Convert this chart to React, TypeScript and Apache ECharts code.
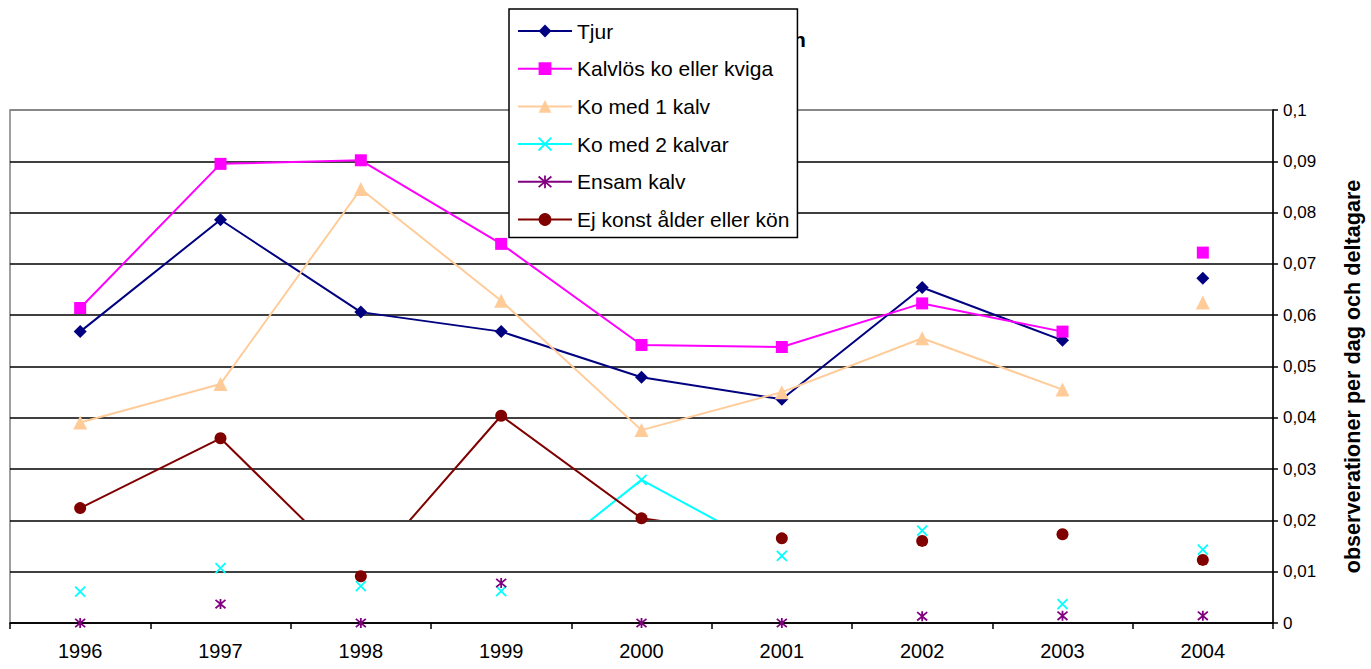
import React, { useEffect, useRef } from "react";
import * as echarts from "echarts";

const years = ["1996", "1997", "1998", "1999", "2000", "2001", "2002", "2003", "2004"];
const seriesNames = [
  "Tjur",
  "Kalvlös ko eller kviga",
  "Ko med 1 kalv",
  "Ko med 2 kalvar",
  "Ensam kalv",
  "Ej konst ålder eller kön",
];
const tjur = [0.0568, 0.0786, 0.0606, 0.0568, 0.0479, 0.0436, 0.0654, 0.0551, 0.0672];
const kalvlos = [0.0614, 0.0895, 0.0902, 0.0739, 0.0542, 0.0538, 0.0623, 0.0568, 0.0722];
const koMed1 = [0.0391, 0.0466, 0.0846, 0.0628, 0.0376, 0.045, 0.0555, 0.0455, 0.0625];
const koMed2 = [0.0061, 0.0107, 0.0072, 0.0062, 0.0279, 0.0131, 0.018, 0.0037, 0.0143];
const ensamKalv = [0, 0.0037, 0, 0.0078, 0, 0, 0.0013, 0.0014, 0.0014];
const ejKonst = [0.0224, 0.036, 0.0091, 0.0404, 0.0204, 0.0165, 0.016, 0.0173, 0.0123];
const allValues = [tjur, kalvlos, koMed1, koMed2, ensamKalv, ejKonst];
const yTicks = { min: 0, max: 0.1, interval: 0.01 };
const hiddenBelow = 0.02;
const yAxisTitle = "observerationer per dag och deltagare";
const titleVisible = "h";

const colors = ["#000080", "#FF00FF", "#FFCC99", "#00FFFF", "#800080", "#800000"];
const symbols = [
  "diamond",
  "rect",
  "triangle",
  "path://M0,0L10,10M10,0L0,10",
  "path://M0,0L10,10M10,0L0,10M5,-1L5,11",
  "circle",
];
const symbolSizes = [13, 12, 14, 10, 10, 12];
const strokeOnly = [false, false, false, true, true, false];

export default function App() {
  const ref = useRef<HTMLDivElement>(null);
  useEffect(() => {
    if (!ref.current) return;
    const chart = echarts.init(ref.current, undefined, { renderer: "svg" });
    const font = "Arial, 'Liberation Sans', sans-serif";

    const markerStyle = (i: number) =>
      strokeOnly[i]
        ? { color: colors[i], borderColor: colors[i], borderWidth: 1.8, opacity: 1 }
        : { color: colors[i], borderWidth: 0, opacity: 1 };

    const lineSeries = seriesNames.map((name, i) => ({
      type: "line",
      name,
      data: allValues[i].slice(0, 8).map((v, k) => [years[k], v]),
      symbol: symbols[i],
      symbolSize: symbolSizes[i],
      showSymbol: false,
      color: colors[i],
      lineStyle: { width: 2 },
      itemStyle: markerStyle(i),
      z: 2,
      silent: true,
    }));
    const markerSeries = seriesNames.map((name, i) => ({
      type: "scatter",
      name,
      data: allValues[i],
      symbol: symbols[i],
      symbolSize: symbolSizes[i],
      itemStyle: markerStyle(i),
      z: 3,
      silent: true,
    }));

    const gridColors = Array.from({ length: 11 }, (_, k) => (k === 10 ? "#808080" : "#000000"));

    chart.setOption({
      animation: false,
      backgroundColor: "#ffffff",
      textStyle: { fontFamily: font },
      title: {
        text: titleVisible,
        left: 788,
        top: 24,
        textStyle: { fontFamily: font, fontSize: 21, fontWeight: "bold", color: "#000" },
      },
      legend: {
        orient: "vertical",
        left: 509,
        top: 9,
        padding: [11, 8, 7, 8],
        itemGap: 15.7,
        itemWidth: 54,
        itemHeight: 16,
        backgroundColor: "#ffffff",
        borderColor: "#000000",
        borderWidth: 1.5,
        z: 10,
        selectedMode: false,
        textStyle: { fontFamily: font, fontSize: 21, color: "#000", lineHeight: 22 },
        data: seriesNames.map((name, i) => ({
          name,
          itemStyle: markerStyle(i),
          lineStyle: { color: colors[i], width: 2 },
        })),
      },
      grid: {
        left: 10,
        right: 96,
        top: 110,
        bottom: 46,
        show: true,
        borderColor: "#808080",
        borderWidth: 1.5,
        backgroundColor: "#ffffff",
      },
      visualMap: lineSeries.map((_, i) => ({
        type: "piecewise",
        show: false,
        seriesIndex: i,
        dimension: 1,
        pieces: [{ gte: hiddenBelow, lte: 1, color: colors[i] }],
        outOfRange: { color: "rgba(255,255,255,0)" },
      })),
      xAxis: {
        type: "category",
        data: years,
        boundaryGap: true,
        axisLine: { show: true, lineStyle: { color: "#000", width: 1.5 } },
        axisTick: { show: true, length: 6, lineStyle: { color: "#000", width: 1.5 }, interval: 0 },
        axisLabel: { fontFamily: font, fontSize: 20, color: "#000", margin: 18, interval: 0 },
        splitLine: { show: false },
      },
      yAxis: {
        type: "value",
        position: "right",
        min: yTicks.min,
        max: yTicks.max,
        interval: yTicks.interval,
        axisLine: { show: true, lineStyle: { color: "#000", width: 1.5 } },
        axisTick: { show: true, length: 5, lineStyle: { color: "#000", width: 1.5 } },
        axisLabel: {
          fontFamily: font,
          fontSize: 17,
          color: "#000",
          margin: 10,
          formatter: (v: number) => String(Math.round(v * 100) / 100).replace(".", ","),
        },
        splitLine: { show: true, lineStyle: { color: gridColors, width: 1.5 } },
        name: yAxisTitle,
        nameLocation: "middle",
        nameRotate: 90,
        nameGap: 68,
        nameTextStyle: {
          fontFamily: font,
          fontSize: 21.6,
          fontWeight: "bold",
          color: "#000",
          padding: [0, 20, 0, 0],
        },
      },
      series: [...lineSeries, ...markerSeries],
    });
    return () => chart.dispose();
  }, []);
  return (
    <div
      ref={ref}
      style={{ position: "fixed", left: 0, top: 0, width: 1371, height: 669, background: "#fff" }}
    />
  );
}
